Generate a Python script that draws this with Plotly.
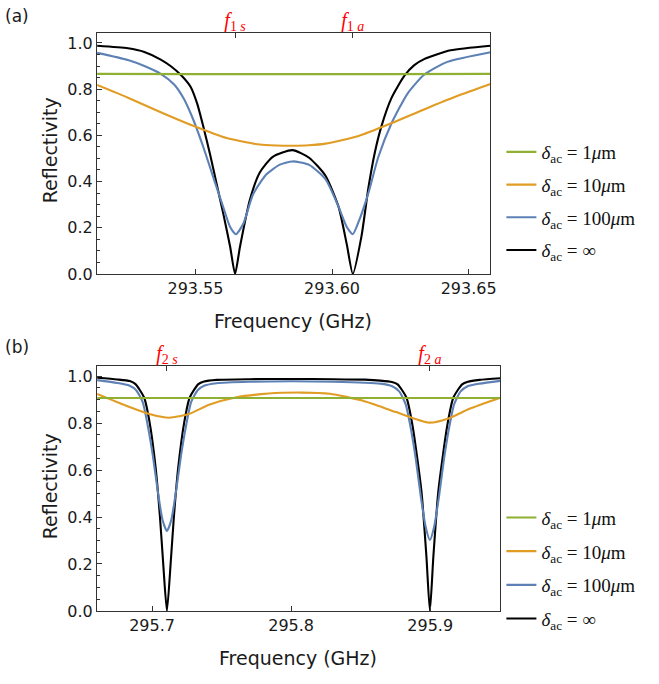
import plotly.graph_objects as go

W, H = 659, 684

# ---------------- data: panel (a) ----------------
f_a_black = [293.5140, 293.5253, 293.5313, 293.5373, 293.5410, 293.5446, 293.5482, 293.5506,
             293.5530, 293.5554, 293.5578, 293.5602, 293.5627, 293.5645, 293.5663, 293.5699,
             293.5735, 293.5783, 293.5855, 293.5916, 293.5976, 293.6024, 293.6054, 293.6076,
             293.6108, 293.6133, 293.6157, 293.6181, 293.6217, 293.6265, 293.6300, 293.6337,
             293.6434, 293.6580]
R_a_black = [0.988, 0.977, 0.961, 0.928, 0.899, 0.862, 0.810, 0.738,
             0.632, 0.515, 0.387, 0.260, 0.118, 0.0, 0.118, 0.320,
             0.438, 0.507, 0.536, 0.503, 0.425, 0.290, 0.128, 0.0,
             0.165, 0.372, 0.528, 0.640, 0.760, 0.858, 0.903, 0.930,
             0.968, 0.988]

f_a_blue = [293.5140, 293.5253, 293.5313, 293.5373, 293.5422, 293.5458, 293.5494, 293.5530,
            293.5566, 293.5602, 293.5627, 293.5648, 293.5675, 293.5711, 293.5759, 293.5807,
            293.5855, 293.5916, 293.5976, 293.6024, 293.6054, 293.6076, 293.6097, 293.6133,
            293.6169, 293.6217, 293.6277, 293.6337, 293.6422, 293.6580]
R_a_blue = [0.957, 0.926, 0.900, 0.866, 0.820, 0.757, 0.662, 0.545,
            0.416, 0.288, 0.203, 0.172, 0.217, 0.345, 0.430, 0.472,
            0.487, 0.472, 0.410, 0.290, 0.203, 0.172, 0.225, 0.350,
            0.505, 0.650, 0.782, 0.862, 0.918, 0.960]

f_a_orange = [293.5140, 293.5253, 293.5373, 293.5494, 293.5614, 293.5735, 293.5795, 293.5855,
              293.5915, 293.5976, 293.6097, 293.6217, 293.6337, 293.6458, 293.6580]
R_a_orange = [0.818, 0.763, 0.700, 0.640, 0.588, 0.560, 0.556, 0.555,
              0.557, 0.564, 0.597, 0.652, 0.712, 0.770, 0.822]

f_a_green = [293.5140, 293.5500, 293.5860, 293.6200, 293.6580]
R_a_green = [0.866, 0.865, 0.865, 0.865, 0.866]

f1_marks = [293.5645, 293.6076]
f1_labels = ["<i>f</i><sub>1 <i>s</i></sub>", "<i>f</i><sub>1 <i>a</i></sub>"]
xrange_a = [293.514, 293.658]
xticks_a = [293.55, 293.60, 293.65]
xticklabels_a = ["293.55", "293.60", "293.65"]

# ---------------- data: panel (b) ----------------
f_b_black = [295.6605, 295.6750, 295.6840, 295.6881, 295.6943, 295.6982, 295.7026, 295.7057,
             295.7080, 295.7107, 295.7134, 295.7157, 295.7188, 295.7232, 295.7271, 295.7333,
             295.7374, 295.7464, 295.7700, 295.8000, 295.8300, 295.8530, 295.8641, 295.8725,
             295.8766, 295.8829, 295.8873, 295.8937, 295.8973, 295.8998, 295.9023, 295.9059,
             295.9123, 295.9167, 295.9230, 295.9271, 295.9355, 295.9505]
R_b_black = [0.993, 0.986, 0.979, 0.966, 0.909, 0.805, 0.609, 0.400,
             0.204, 0.0, 0.204, 0.400, 0.609, 0.805, 0.909, 0.966,
             0.977, 0.984, 0.987, 0.988, 0.987, 0.985, 0.981, 0.975,
             0.965, 0.909, 0.790, 0.511, 0.232, 0.0, 0.232, 0.511,
             0.790, 0.909, 0.965, 0.976, 0.984, 0.991]

f_b_blue = [295.6605, 295.6750, 295.6836, 295.6886, 295.6933, 295.6969, 295.7005, 295.7041,
            295.7076, 295.7107, 295.7138, 295.7173, 295.7209, 295.7245, 295.7281, 295.7328,
            295.7378, 295.7464, 295.7700, 295.8000, 295.8300, 295.8641, 295.8727, 295.8777,
            295.8824, 295.8860, 295.8896, 295.8932, 295.8967, 295.8998, 295.9029, 295.9064,
            295.9100, 295.9136, 295.9172, 295.9219, 295.9269, 295.9355, 295.9505]
R_b_blue = [0.983, 0.971, 0.960, 0.940, 0.889, 0.790, 0.665, 0.511,
            0.386, 0.340, 0.386, 0.511, 0.665, 0.790, 0.889, 0.940,
            0.960, 0.970, 0.976, 0.978, 0.976, 0.968, 0.957, 0.935,
            0.880, 0.780, 0.650, 0.490, 0.360, 0.302, 0.360, 0.490,
            0.650, 0.780, 0.880, 0.935, 0.957, 0.968, 0.980]

f_b_orange = [295.6605, 295.6814, 295.6981, 295.7124, 295.7267, 295.7410, 295.7600, 295.7839,
              295.8076, 295.8279, 295.8517, 295.8755, 295.8993, 295.9136, 295.9279, 295.9505]
R_b_orange = [0.924, 0.874, 0.839, 0.823, 0.839, 0.878, 0.909, 0.926,
              0.930, 0.925, 0.895, 0.847, 0.802, 0.821, 0.860, 0.908]

f_b_green = [295.6605, 295.7500, 295.8050, 295.8600, 295.9505]
R_b_green = [0.907, 0.907, 0.907, 0.907, 0.907]

f2_marks = [295.7107, 295.8998]
f2_labels = ["<i>f</i><sub>2 <i>s</i></sub>", "<i>f</i><sub>2 <i>a</i></sub>"]
xrange_b = [295.6605, 295.9505]
xticks_b = [295.7, 295.8, 295.9]
xticklabels_b = ["295.7", "295.8", "295.9"]

yticks = [0.0, 0.2, 0.4, 0.6, 0.8, 1.0]
yticklabels = ["0.0", "0.2", "0.4", "0.6", "0.8", "1.0"]
yrange = [0, 1.045]

names = ["<i>δ</i><sub>ac</sub> = 1<i>μ</i>m", "<i>δ</i><sub>ac</sub> = 10<i>μ</i>m",
         "<i>δ</i><sub>ac</sub> = 100<i>μ</i>m", "<i>δ</i><sub>ac</sub> = ∞"]
colors = ["#8FB032", "#E19C24", "#5E81B5", "#000000"]

# ---------------- figure ----------------
fig = go.Figure()

def add_panel(xs, ys, xa, ya, leg, tag):
    order = [3, 2, 1, 0]  # black first, green on top
    for k in order:
        fig.add_trace(go.Scatter(
            x=xs[k], y=ys[k], mode="lines", name=names[k],
            line=dict(color=colors[k], width=2.1, shape="spline", smoothing=0.6),
            xaxis=xa, yaxis=ya, legend=leg, legendgroup=f"{tag}{k}", legendrank=k + 1,
            hoverinfo="skip"))

add_panel([f_a_green, f_a_orange, f_a_blue, f_a_black],
          [R_a_green, R_a_orange, R_a_blue, R_a_black], "x", "y", "legend", "a")
add_panel([f_b_green, f_b_orange, f_b_blue, f_b_black],
          [R_b_green, R_b_orange, R_b_blue, R_b_black], "x2", "y2", "legend2", "b")

# invisible traces to attach the top (marker-frequency) axes
fig.add_trace(go.Scatter(x=f1_marks, y=[None, None], xaxis="x3", yaxis="y",
                         showlegend=False, hoverinfo="skip"))
fig.add_trace(go.Scatter(x=f2_marks, y=[None, None], xaxis="x4", yaxis="y2",
                         showlegend=False, hoverinfo="skip"))

AX = "#333333"
SANS = "DejaVu Sans, Liberation Sans, Arial, sans-serif"
SERIF = "Liberation Serif, Times New Roman, serif"
tickfont = dict(family=SANS, size=16, color="#1a1a1a")
red_font = dict(family=SERIF, size=20, color="#ff0000")

def px_x(p):
    return p / W

def px_y(p):
    return 1 - p / H

xcommon = dict(showgrid=False, zeroline=False, showline=True, linecolor=AX, linewidth=1.2,
               ticks="inside", ticklen=5, tickwidth=1, tickcolor=AX, mirror=True,
               tickfont=tickfont)
ycommon = dict(showgrid=False, zeroline=False, showline=True, linecolor=AX, linewidth=1.2,
               ticks="inside", ticklen=5, tickwidth=1, tickcolor=AX, mirror=True,
               tickfont=tickfont, range=yrange, tickvals=yticks, ticktext=yticklabels,
               minor=dict(dtick=0.05, tick0=0, ticks="inside", ticklen=3, tickcolor=AX))
topcommon = dict(side="top", showgrid=False, zeroline=False, showline=False,
                 ticks="inside", ticklen=5, tickwidth=1, tickcolor=AX, tickfont=red_font,
                 ticklabelstandoff=1)

legfont = dict(family=SERIF, size=19, color="#111")
fig.update_layout(
    width=W, height=H, margin=dict(l=0, r=0, t=0, b=0),
    paper_bgcolor="white", plot_bgcolor="white",
    xaxis=dict(domain=[px_x(98), px_x(495)], anchor="y", range=xrange_a,
               tickvals=xticks_a, ticktext=xticklabels_a, **xcommon),
    yaxis=dict(domain=[px_y(278), px_y(33)], anchor="x", **ycommon),
    xaxis3=dict(overlaying="x", anchor="y", range=xrange_a, tickvals=f1_marks,
                ticktext=f1_labels, **topcommon),
    xaxis2=dict(domain=[px_x(98), px_x(505)], anchor="y2", range=xrange_b,
                tickvals=xticks_b, ticktext=xticklabels_b, **xcommon),
    yaxis2=dict(domain=[px_y(620), px_y(371)], anchor="x2", **ycommon),
    xaxis4=dict(overlaying="x2", anchor="y2", range=xrange_b, tickvals=f2_marks,
                ticktext=f2_labels, **topcommon),
    legend=dict(x=px_x(506), y=px_y(135), xanchor="left", yanchor="top",
                bgcolor="rgba(0,0,0,0)", tracegroupgap=5, font=legfont),
    legend2=dict(x=px_x(506), y=px_y(506), xanchor="left", yanchor="top",
                 bgcolor="rgba(0,0,0,0)", tracegroupgap=6, font=legfont),
    showlegend=True,
)

lab = dict(family=SANS, size=19, color="#1a1a1a")
annots = [
    dict(text="(a)", x=px_x(17), y=px_y(16), font=dict(family=SANS, size=17, color="#1a1a1a")),
    dict(text="(b)", x=px_x(17), y=px_y(352), font=dict(family=SANS, size=17, color="#1a1a1a")),
    dict(text="Reflectivity", x=px_x(50), y=px_y(153), textangle=-90, font=lab),
    dict(text="Reflectivity", x=px_x(50), y=px_y(494), textangle=-90, font=lab),
    dict(text="Frequency (GHz)", x=px_x(296), y=px_y(326), font=lab),
    dict(text="Frequency (GHz)", x=px_x(301), y=px_y(668), font=lab),
]
for a in annots:
    fig.add_annotation(xref="paper", yref="paper", xanchor="center", yanchor="middle",
                       showarrow=False, **a)

fig.write_html("out.html")
